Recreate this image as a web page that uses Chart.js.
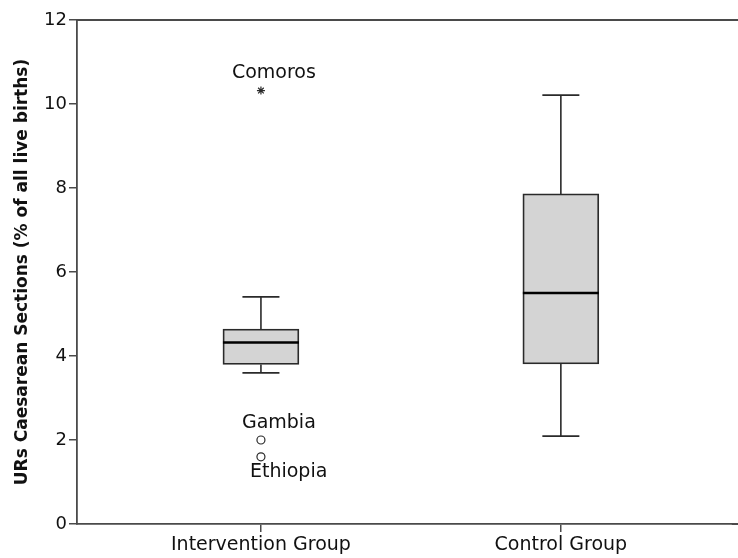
<!DOCTYPE html>
<html lang="en">
<head>
    <meta charset="UTF-8">
    <title>URs Caesarean Sections</title>
    <script src="https://cdn.jsdelivr.net/npm/chart.js"></script>
    <style>
        body { margin: 0; background: #fff; }
        #boxChart { display: block; }
    </style>
</head>
<body>
    <canvas id="boxChart" width="738" height="558"></canvas>
    <script>
        // data
        const groups = ['Intervention Group', 'Control Group'];
        const groupX = [1, 2];
        const whiskerLow = [3.60, 2.09];
        const q1 = [3.80, 3.81];
        const median = [4.32, 5.50];
        const q3 = [4.64, 7.86];
        const whiskerHigh = [5.41, 10.21];
        const yTicks = [0, 2, 4, 6, 8, 10, 12];

        const outlierNames = ['Comoros', 'Gambia', 'Ethiopia'];
        const outlierValues = [10.32, 2.00, 1.60];
        const outlierGroup = [0, 0, 0];
        const outlierStar = [true, false, false];

        // styling
        const boxHalf = 0.1267;
        const capHalf = 0.0617;
        const labelOffsets = [[-29, -17], [-19, -17], [-11, 15]];
        const axisColor = '#4a4a4a';
        const lineColor = '#2a2a2a';
        const fontFamily = '"DejaVu Sans", Verdana, sans-serif';

        function segment(x1, y1, x2, y2, width, color, order) {
            return {
                type: 'scatter',
                data: [{ x: x1, y: y1 }, { x: x2, y: y2 }],
                showLine: true,
                borderColor: color,
                borderWidth: width,
                pointRadius: 0,
                order: order
            };
        }

        const datasets = [];

        datasets.push({
            type: 'bar',
            data: groupX.map((x, i) => ({ x: x, y: [q1[i], q3[i]] })),
            backgroundColor: '#d4d4d4',
            borderColor: lineColor,
            borderWidth: 1.8,
            borderSkipped: false,
            barThickness: 76,
            order: 3
        });

        groupX.forEach((x, i) => {
            datasets.push(segment(x, whiskerLow[i], x, q1[i], 1.6, lineColor, 2));
            datasets.push(segment(x, q3[i], x, whiskerHigh[i], 1.6, lineColor, 2));
            datasets.push(segment(x - capHalf, whiskerLow[i], x + capHalf, whiskerLow[i], 1.8, lineColor, 2));
            datasets.push(segment(x - capHalf, whiskerHigh[i], x + capHalf, whiskerHigh[i], 1.8, lineColor, 2));
            datasets.push(segment(x - boxHalf, median[i], x + boxHalf, median[i], 2.5, '#000', 1));
        });

        datasets.push({
            type: 'scatter',
            data: outlierValues.map((v, i) => ({ x: groupX[outlierGroup[i]], y: v })),
            pointStyle: outlierStar.map(s => s ? 'star' : 'circle'),
            pointRadius: outlierStar.map(s => s ? 4 : 4),
            pointBackgroundColor: '#fff',
            pointBorderColor: lineColor,
            pointBorderWidth: 1.2,
            order: 0
        });

        const outlierLabels = {
            id: 'outlierLabels',
            afterDatasetsDraw(chart) {
                const ctx = chart.ctx;
                const xs = chart.scales.x, ys = chart.scales.y;
                ctx.save();
                ctx.font = '19px ' + fontFamily;
                ctx.fillStyle = '#111';
                ctx.textAlign = 'left';
                ctx.textBaseline = 'middle';
                outlierNames.forEach((name, i) => {
                    const px = xs.getPixelForValue(groupX[outlierGroup[i]]);
                    const py = ys.getPixelForValue(outlierValues[i]);
                    ctx.fillText(name, px + labelOffsets[i][0], py + labelOffsets[i][1]);
                });
                ctx.restore();
            }
        };

        // frame lines run on to the right edge, the plot is cut off there
        const frameLines = {
            id: 'frameLines',
            afterDraw(chart) {
                const a = chart.chartArea;
                const ctx = chart.ctx;
                ctx.save();
                ctx.strokeStyle = axisColor;
                ctx.lineWidth = 1.8;
                ctx.beginPath();
                ctx.moveTo(a.left, a.top);
                ctx.lineTo(chart.width, a.top);
                ctx.moveTo(a.right - 1, a.bottom);
                ctx.lineTo(chart.width, a.bottom);
                ctx.stroke();
                ctx.restore();
            }
        };

        new Chart(document.getElementById('boxChart'), {
            data: { datasets: datasets },
            plugins: [outlierLabels, frameLines],
            options: {
                responsive: false,
                animation: false,
                layout: { padding: { top: 20, right: 0, left: 0, bottom: 0 } },
                plugins: {
                    legend: { display: false },
                    tooltip: { enabled: false }
                },
                scales: {
                    x: {
                        type: 'linear',
                        min: 0.3867,
                        max: 2.5733,
                        offset: false,
                        afterBuildTicks: scale => {
                            scale.ticks = groupX.map(v => ({ value: v }));
                        },
                        afterFit: scale => { scale.height = 34; },
                        ticks: {
                            callback: v => groups[groupX.indexOf(v)] || '',
                            color: '#111',
                            font: { family: fontFamily, size: 19 },
                            padding: 2,
                            maxRotation: 0,
                            autoSkip: false
                        },
                        grid: {
                            offset: false,
                            drawOnChartArea: false,
                            drawTicks: true,
                            tickLength: 8,
                            color: axisColor,
                            lineWidth: 1.5
                        },
                        border: { color: axisColor, width: 1.8 }
                    },
                    y: {
                        min: 0,
                        max: 12,
                        afterBuildTicks: scale => {
                            scale.ticks = yTicks.map(v => ({ value: v }));
                        },
                        afterFit: scale => { scale.width = 77; },
                        ticks: {
                            color: '#111',
                            font: { family: fontFamily, size: 18 },
                            padding: 2
                        },
                        grid: {
                            drawOnChartArea: false,
                            drawTicks: true,
                            tickLength: 8,
                            color: axisColor,
                            lineWidth: 1.5
                        },
                        border: { color: axisColor, width: 1.8 },
                        title: {
                            display: true,
                            text: 'URs Caesarean Sections (% of all live births)',
                            color: '#111',
                            font: { family: fontFamily, size: 17, weight: 'bold' },
                            padding: { top: 12, bottom: 0 }
                        }
                    }
                }
            }
        });
    </script>
</body>
</html>
